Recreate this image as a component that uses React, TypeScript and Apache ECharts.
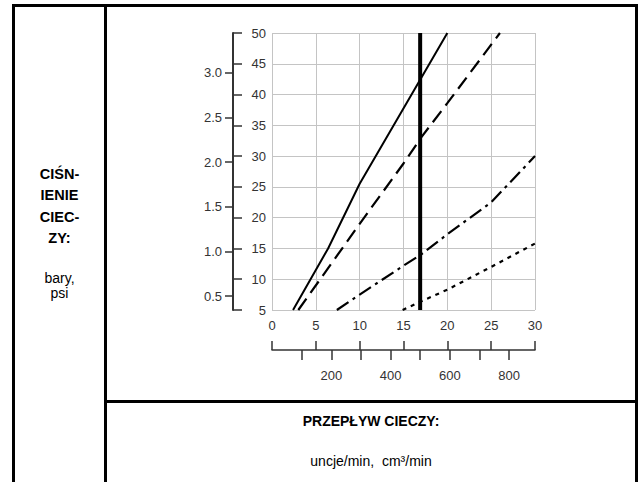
import React, { useEffect, useRef } from "react";
import * as echarts from "echarts";

// x: flow in oz/min, y: pressure in psi
const solidLine: [number, number][] = [[2.4, 5], [6.4, 15], [10, 25.5], [20, 50]];
const dashedLine: [number, number][] = [[3.0, 5], [7.2, 13.4], [10, 19], [15, 28.8], [17, 33], [20, 38.6], [26, 50]];
const dashDotLine: [number, number][] = [[7.4, 5], [10, 7.5], [15, 12.2], [17, 14], [20, 17.3], [25, 22.5], [30, 30]];
const dottedLine: [number, number][] = [[14.9, 5], [17, 6.4], [20, 8.3], [25, 12], [30, 15.8]];
const markerLine: [number, number][] = [[16.9, 5], [16.9, 50]];

const psiMin = 5;
const psiMax = 50;
const ozMax = 30;
const psiPerBar = 14.5038;
const cm3PerOz = 29.5735;
const barTicks = [0.5, 1.0, 1.5, 2.0, 2.5, 3.0];
const cm3Ticks = [100, 200, 300, 400, 500, 600, 700, 800];
const cm3Labels = [200, 400, 600, 800];

const leftTitle = "CIŚN-\nIENIE\nCIEC-\nZY:";
const leftUnits = "bary,\npsi";
const bottomTitle = "PRZEPŁYW CIECZY:";
const bottomUnits = "uncje/min,  cm³/min";

const FONT = '"Liberation Sans", Arial, Helvetica, sans-serif';
const LABEL = { fontFamily: FONT, fontSize: 13, color: "#333" };

export default function App() {
  const ref = useRef<HTMLDivElement>(null);
  useEffect(() => {
    if (!ref.current) return;
    const chart = echarts.init(ref.current, undefined, { renderer: "svg" });
    const border = { stroke: "#000", lineWidth: 3 };
    chart.setOption({
      animation: false,
      backgroundColor: "#fff",
      grid: { left: 272, top: 33, right: 106, bottom: 172, containLabel: false },
      xAxis: [
        {
          type: "value", min: 0, max: ozMax, interval: 5, position: "bottom",
          axisLine: { show: false, onZero: false }, axisTick: { show: false },
          axisLabel: { ...LABEL, margin: 9 },
          splitLine: { show: true, lineStyle: { color: "#c4c4c4", width: 1 } },
        },
        {
          type: "value", min: 0, max: ozMax, interval: 5, position: "bottom", offset: 40,
          axisLine: { show: true, onZero: false, lineStyle: { color: "#333", width: 1.5 } },
          axisTick: { show: true, inside: true, length: 9, lineStyle: { color: "#333", width: 1.5 } },
          axisLabel: { show: false }, splitLine: { show: false },
        },
        {
          type: "value", min: 0, max: ozMax * cm3PerOz, position: "bottom", offset: 40,
          axisLine: { show: false, onZero: false },
          axisTick: { show: true, length: 10, customValues: cm3Ticks, lineStyle: { color: "#333", width: 1.5 } },
          axisLabel: { ...LABEL, margin: 19, customValues: cm3Labels },
          splitLine: { show: false },
        },
      ],
      yAxis: [
        {
          type: "value", min: psiMin, max: psiMax, interval: 5, position: "left", offset: 39,
          axisLine: { show: true, onZero: false, lineStyle: { color: "#333", width: 2 } },
          axisTick: { show: true, inside: true, length: 9, lineStyle: { color: "#333", width: 1.5 } },
          axisLabel: { ...LABEL, inside: true, align: "right", margin: 33 },
          splitLine: { show: true, lineStyle: { color: "#c4c4c4", width: 1 } },
        },
        {
          type: "value", min: psiMin / psiPerBar, max: psiMax / psiPerBar, position: "left", offset: 39,
          axisLine: { show: false, onZero: false },
          axisTick: { show: true, length: 8, customValues: barTicks, lineStyle: { color: "#333", width: 1.5 } },
          axisLabel: { ...LABEL, margin: 11, customValues: barTicks, formatter: (v: number) => v.toFixed(1) },
          splitLine: { show: false },
        },
      ],
      series: [
        { type: "line", data: solidLine, symbol: "none", lineStyle: { color: "#000", width: 2 } },
        { type: "line", data: dashedLine, symbol: "none", lineStyle: { color: "#000", width: 2.2, type: [14, 7] } },
        { type: "line", data: dashDotLine, symbol: "none", lineStyle: { color: "#000", width: 2.2, type: [14, 5, 3, 5] } },
        { type: "line", data: dottedLine, symbol: "none", lineStyle: { color: "#000", width: 2.2, type: [4, 5] } },
        { type: "line", data: markerLine, symbol: "none", z: 5, lineStyle: { color: "#000", width: 4 } },
      ],
      graphic: [
        { type: "line", shape: { x1: 12, y1: 5.5, x2: 638, y2: 5.5 }, style: border },
        { type: "line", shape: { x1: 13.5, y1: 4, x2: 13.5, y2: 482 }, style: border },
        { type: "line", shape: { x1: 105.5, y1: 4, x2: 105.5, y2: 482 }, style: border },
        { type: "line", shape: { x1: 636.5, y1: 4, x2: 636.5, y2: 482 }, style: border },
        { type: "line", shape: { x1: 105, y1: 401.5, x2: 638, y2: 401.5 }, style: border },
        {
          type: "text", x: 59.5, y: 163,
          style: { text: leftTitle, textAlign: "center", textVerticalAlign: "top", fontFamily: FONT, fontSize: 14.5, fontWeight: "bold", lineHeight: 21.5, fill: "#000" },
        },
        {
          type: "text", x: 59.5, y: 270,
          style: { text: leftUnits, textAlign: "center", textVerticalAlign: "top", fontFamily: FONT, fontSize: 14, lineHeight: 15, fill: "#000" },
        },
        {
          type: "text", x: 371, y: 421,
          style: { text: bottomTitle, textAlign: "center", textVerticalAlign: "middle", fontFamily: FONT, fontSize: 14, fontWeight: "bold", fill: "#000" },
        },
        {
          type: "text", x: 371, y: 461,
          style: { text: bottomUnits, textAlign: "center", textVerticalAlign: "middle", fontFamily: FONT, fontSize: 14, fill: "#000" },
        },
      ],
    });
    return () => chart.dispose();
  }, []);
  return (
    <div
      ref={ref}
      style={{ position: "fixed", left: 0, top: 0, width: 641, height: 482 }}
    />
  );
}
